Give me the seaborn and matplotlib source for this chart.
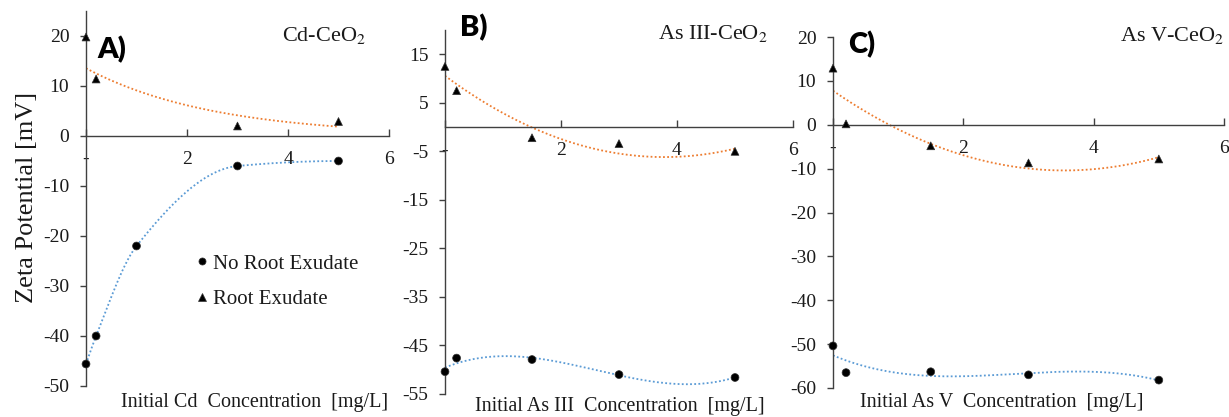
import numpy as np
import pandas as pd
import matplotlib
matplotlib.use("Agg")
import matplotlib.pyplot as plt
import seaborn as sns

# ---------------- data ----------------
conc_cd_no = [0, 0.2, 1, 3, 5]
zeta_cd_no = [-45.6, -40.0, -22.0, -6.0, -5.0]
conc_cd_re = [0, 0.2, 3, 5]
zeta_cd_re = [19.8, 11.4, 2.0, 2.9]

conc_as = [0, 0.2, 1.5, 3, 5]
zeta_as3_no = [-50.4, -47.6, -47.9, -51.0, -51.6]
zeta_as3_re = [12.5, 7.5, -2.2, -3.4, -5.0]
zeta_as5_no = [-50.4, -56.5, -56.3, -57.0, -58.2]
zeta_as5_re = [12.9, 0.2, -4.8, -8.7, -7.8]

series_names = ["No Root Exudate", "Root Exudate"]
panel_letters = ["A)", "B)", "C)"]
panel_titles = [r"Cd-CeO$_{\rm 2}$", r"As III-CeO$_{\rm 2}$", r"As V-CeO$_{\rm 2}$"]
x_labels = ["Initial Cd  Concentration  [mg/L]",
            "Initial As III  Concentration  [mg/L]",
            "Initial As V  Concentration  [mg/L]"]
x_ticks = [0, 2, 4, 6]
x_ticklabels = ["-", "2", "4", "6"]
y_ticks = [np.arange(-50, 21, 10), np.arange(-55, 16, 10), np.arange(-60, 21, 10)]
y_lims = [(-50, 25), (-55, 20), (-60, 20)]
# trend type for (no exudate, root exudate) in each panel
trend_types = [("smooth", "exp"), ("poly3", "poly2"), ("poly3", "poly2")]

panels = [
    (conc_cd_no, zeta_cd_no, conc_cd_re, zeta_cd_re),
    (conc_as, zeta_as3_no, conc_as, zeta_as3_re),
    (conc_as, zeta_as5_no, conc_as, zeta_as5_re),
]


def pchip(x, y, xs):
    h = np.diff(x)
    d = np.diff(y) / h
    n = len(x)
    m = np.zeros(n)
    for k in range(1, n - 1):
        if d[k - 1] * d[k] <= 0:
            m[k] = 0.0
        else:
            w1 = 2 * h[k] + h[k - 1]
            w2 = h[k] + 2 * h[k - 1]
            m[k] = (w1 + w2) / (w1 / d[k - 1] + w2 / d[k])

    def end(h0, h1, d0, d1):
        s = ((2 * h0 + h1) * d0 - h0 * d1) / (h0 + h1)
        if np.sign(s) != np.sign(d0):
            return 0.0
        if np.sign(d0) != np.sign(d1) and abs(s) > abs(3 * d0):
            return 3 * d0
        return s

    m[0] = end(h[0], h[1], d[0], d[1])
    m[-1] = end(h[-1], h[-2], d[-1], d[-2])
    idx = np.clip(np.searchsorted(x, xs) - 1, 0, n - 2)
    t = (xs - x[idx]) / h[idx]
    h00 = 2 * t**3 - 3 * t**2 + 1
    h10 = t**3 - 2 * t**2 + t
    h01 = -2 * t**3 + 3 * t**2
    h11 = t**3 - t**2
    return (h00 * y[idx] + h10 * h[idx] * m[idx] + h01 * y[idx + 1]
            + h11 * h[idx] * m[idx + 1])


def trend(x, y, kind):
    x = np.asarray(x, float)
    y = np.asarray(y, float)
    xs = np.linspace(x.min(), x.max(), 300)
    if kind.startswith("poly"):
        return xs, np.polyval(np.polyfit(x, y, int(kind[4:])), xs)
    if kind == "exp":
        b, lna = np.polyfit(x, np.log(y), 1)
        return xs, np.exp(lna) * np.exp(b * xs)
    return xs, pchip(x, y, xs)


# ---------------- style ----------------
sns.set_theme(style="white")
plt.rcParams["font.family"] = ["Liberation Serif", "DejaVu Serif"]
plt.rcParams["mathtext.fontset"] = "stix"

W, H = 1229, 417
fig = plt.figure(figsize=(W / 100, H / 100), dpi=100)


def fx(px):
    return px / W


def fy(py):
    return 1 - py / H


rects_px = [(86, 389, 11, 386), (445, 793, 30, 394), (833, 1224, 37, 388)]
letter_pos = [(112, 50), (474, 28), (862, 45)]
title_pos = [(366, 36), (768, 34), (1224, 36)]
xlabel_pos = [(255, 402), (620, 407), (1002, 403)]

BLUE = "#5B9BD5"
ORANGE = "#ED7D31"
AX_COL = "#404040"
TXT = "#1a1a1a"

for i, (xn, yn, xr, yr) in enumerate(panels):
    l, r, t, b = rects_px[i]
    ax = fig.add_axes([fx(l), fy(b), fx(r) - fx(l), fy(t) - fy(b)])
    ax.set_facecolor("none")

    kn, kr = trend_types[i]
    xs_n, fit_n = trend(xn, yn, kn)
    xs_r, fit_r = trend(xr, yr, kr)
    sns.lineplot(x=xs_n, y=fit_n, ax=ax, color=BLUE, lw=1.3,
                 estimator=None, linestyle=(0, (1, 1.3)), zorder=2)
    sns.lineplot(x=xs_r, y=fit_r, ax=ax, color=ORANGE, lw=1.3,
                 estimator=None, linestyle=(0, (1, 1.3)), zorder=2)

    df = pd.DataFrame({
        "x": list(xn) + list(xr),
        "y": list(yn) + list(yr),
        "series": [series_names[0]] * len(xn) + [series_names[1]] * len(xr),
    })
    sns.scatterplot(data=df, x="x", y="y", style="series",
                    markers={series_names[0]: "o", series_names[1]: "^"},
                    color="black", s=32, edgecolor="#333333", linewidth=0.5,
                    ax=ax, legend=(i == 0), zorder=3, clip_on=False)

    ax.set_xlim(0, 6)
    ax.set_ylim(*y_lims[i])
    ax.set_xticks(x_ticks)
    ax.set_xticklabels(x_ticklabels)
    ax.set_yticks(y_ticks[i])
    ax.set_yticklabels([f"{v:d}" for v in y_ticks[i]])
    ax.set_xlabel("")
    ax.set_ylabel("")

    for s in ["top", "right"]:
        ax.spines[s].set_visible(False)
    ax.spines["bottom"].set_position(("data", 0))
    for s in ["left", "bottom"]:
        ax.spines[s].set_color(AX_COL)
        ax.spines[s].set_linewidth(1.0)

    ax.tick_params(axis="x", direction="in", length=5, width=1, color=AX_COL,
                   pad=11, labelsize=14, labelcolor=TXT, bottom=True)
    ax.tick_params(axis="y", direction="out", length=4, width=1, color=AX_COL,
                   pad=8, labelsize=14, labelcolor=TXT, left=True)

    if i == 0:
        h, lab = ax.get_legend_handles_labels()
        ax.legend(h, lab, loc="center left", bbox_to_anchor=(fx(194), fy(281.5)),
                  bbox_transform=fig.transFigure, frameon=False, fontsize=15,
                  handlelength=0.8, handletextpad=0.1, labelspacing=0.75,
                  borderpad=0, borderaxespad=0, markerscale=0.9,
                  labelcolor=TXT)

    fig.text(fx(letter_pos[i][0]), fy(letter_pos[i][1]), panel_letters[i],
             family=["Lato", "DejaVu Sans"], weight="heavy", fontsize=21,
             ha="center", va="center", color="black")
    fig.text(fx(title_pos[i][0]), fy(title_pos[i][1]), panel_titles[i],
             fontsize=16, ha="right", va="center", color=TXT)
    fig.text(fx(xlabel_pos[i][0]), fy(xlabel_pos[i][1]), x_labels[i],
             fontsize=14.5, ha="center", va="center", color=TXT)

fig.text(fx(27), fy(197), "Zeta Potential [mV]", rotation=90, fontsize=19,
         ha="center", va="center", color=TXT)

fig.savefig("out.png", dpi=100)
